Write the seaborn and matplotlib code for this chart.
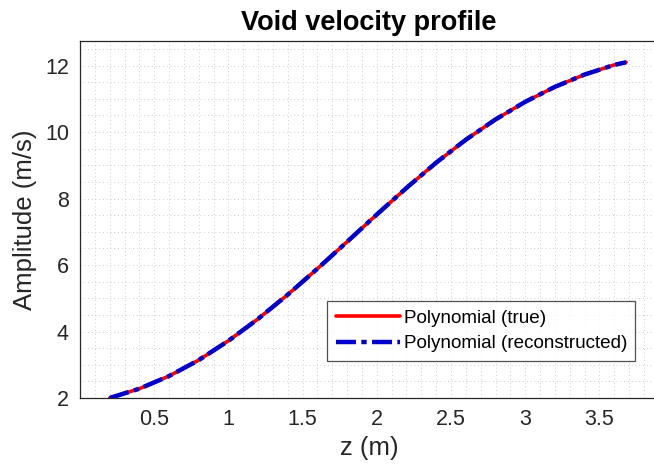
import numpy as np
import pandas as pd
import seaborn as sns
import matplotlib.pyplot as plt
from matplotlib.ticker import MultipleLocator

# values
z_m = [0.2, 0.4, 0.6, 0.8, 1.0, 1.2, 1.4, 1.6, 1.8, 2.0,
       2.2, 2.4, 2.6, 2.8, 3.0, 3.2, 3.4, 3.6, 3.68]
amp_true = [2.00, 2.28, 2.66, 3.14, 3.72, 4.38, 5.11, 5.89, 6.70, 7.52,
            8.32, 9.08, 9.77, 10.38, 10.91, 11.36, 11.73, 12.02, 12.10]
amp_recon = [2.00, 2.28, 2.66, 3.14, 3.72, 4.38, 5.11, 5.89, 6.70, 7.52,
             8.32, 9.08, 9.77, 10.38, 10.91, 11.36, 11.73, 12.02, 12.10]
x_ticks = [0.5, 1, 1.5, 2, 2.5, 3, 3.5]
y_ticks = [2, 4, 6, 8, 10, 12]

df = pd.DataFrame({'z': z_m, 'true': amp_true, 'recon': amp_recon})

sns.set_theme(style='white')
plt.rcParams['font.family'] = ['Liberation Sans', 'DejaVu Sans']
dark = '#262626'

fig = plt.figure(figsize=(6.54, 4.68), dpi=100)
# right edge of the axes box sits just past the image edge, as in the reference
ax = fig.add_axes([80 / 654, 70 / 468, 578 / 654, 357 / 468])

sns.lineplot(data=df, x='z', y='true', ax=ax, color='#ff0000', lw=2.6,
             label='Polynomial (true)', zorder=3)
sns.lineplot(data=df, x='z', y='recon', ax=ax, color='#0000cc', lw=3.2,
             linestyle=(0, (4.5, 1.2, 1.2, 1.2)),
             label='Polynomial (reconstructed)', zorder=4)

ax.set_xlim(0, 3.895)
ax.set_ylim(2, 12.74)
ax.set_xticks(x_ticks)
ax.set_xticklabels(['0.5', '1', '1.5', '2', '2.5', '3', '3.5'])
ax.set_yticks(y_ticks)
ax.xaxis.set_minor_locator(MultipleLocator(0.1))
ax.yaxis.set_minor_locator(MultipleLocator(0.5))
ax.grid(True, which='both', color='#bdbdbd', linestyle=(0, (1, 3.5)), lw=0.6)
ax.tick_params(axis='both', which='major', direction='in', length=5,
               width=0.8, color=dark, labelcolor=dark, labelsize=15.5,
               top=False, right=False, pad=8)
ax.tick_params(which='minor', length=0)
for s in ax.spines.values():
    s.set_color(dark)
    s.set_linewidth(0.9)

ax.set_title('Void velocity profile', fontsize=19.5, fontweight='bold',
             color='#000000', pad=8)
ax.set_xlabel('z (m)', fontsize=18.5, color=dark, labelpad=4)
ax.set_ylabel('Amplitude (m/s)', fontsize=18.5, color=dark, labelpad=6)

leg = ax.legend(loc='lower right', bbox_to_anchor=(0.961, 0.104),
                fontsize=13.6, frameon=True, fancybox=False,
                handlelength=3.4, handletextpad=0.2, borderpad=0.45,
                labelspacing=0.45, borderaxespad=0)
leg.get_frame().set_edgecolor(dark)
leg.get_frame().set_linewidth(0.9)
for t in leg.get_texts():
    t.set_color('#000000')

fig.savefig('out.png', dpi=100)
